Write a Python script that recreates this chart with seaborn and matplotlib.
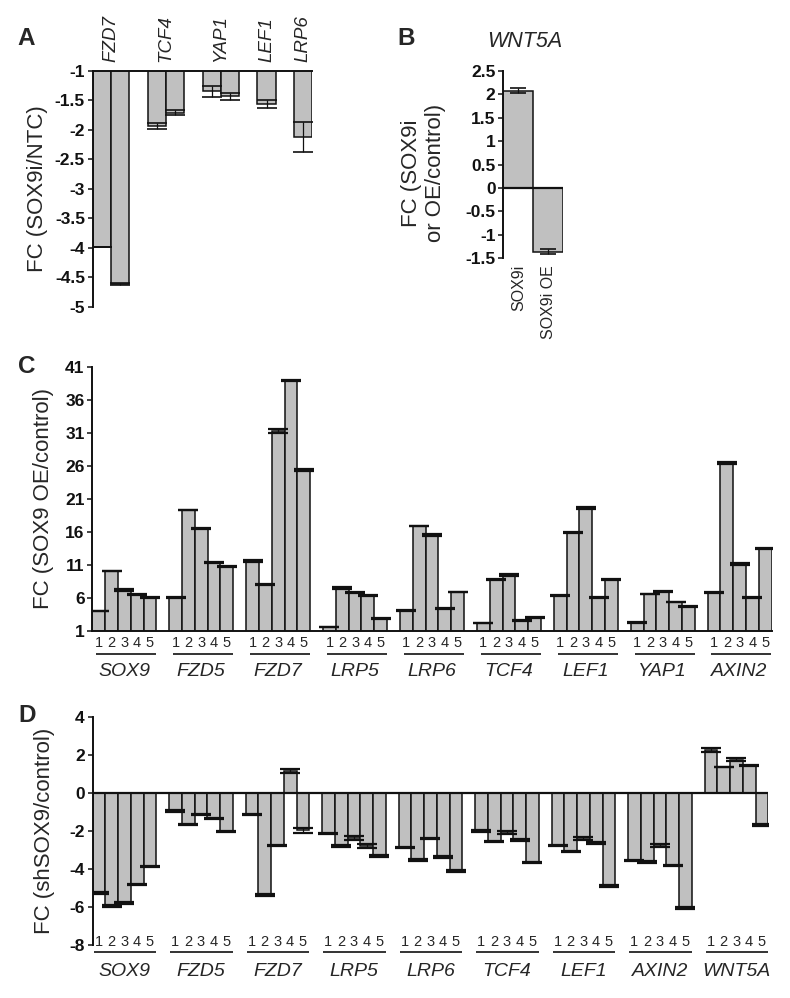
import matplotlib
matplotlib.use("Agg")
import matplotlib.pyplot as plt
import matplotlib.transforms as mtransforms
import pandas as pd
import seaborn as sns

# ------------------------------------------------------------------ data
A_genes = ["FZD7", "TCF4", "YAP1", "LEF1", "LRP6"]
A_values = [[-3.98, -4.62], [-1.93, -1.71], [-1.35, -1.43], [-1.56], [-2.12]]
A_errors = [[0.0, 0.015], [0.05, 0.04], [0.09, 0.06], [0.07], [0.25]]
A_yticks = [-1, -1.5, -2, -2.5, -3, -3.5, -4, -4.5, -5]
A_ylabel = "FC (SOX9i/NTC)"

B_title = "WNT5A"
B_categories = ["SOX9i", "SOX9i OE"]
B_values = [2.08, -1.36]
B_errors = [0.05, 0.05]
B_yticks = [2.5, 2, 1.5, 1, 0.5, 0, -0.5, -1, -1.5]
B_ylabel = "FC (SOX9i\nor OE/control)"

replicates = ["1", "2", "3", "4", "5"]

C_genes = ["SOX9", "FZD5", "FZD7", "LRP5", "LRP6", "TCF4", "LEF1", "YAP1", "AXIN2"]
C_values = [
    [4.0, 10.1, 7.2, 6.5, 6.1],
    [6.1, 19.3, 16.5, 11.4, 10.8],
    [11.6, 8.0, 31.3, 38.9, 25.4],
    [1.6, 7.5, 6.8, 6.4, 2.9],
    [4.1, 16.9, 15.6, 4.4, 6.9],
    [2.2, 8.8, 9.5, 2.6, 3.0],
    [6.4, 15.9, 19.6, 6.1, 8.8],
    [2.3, 6.6, 7.0, 5.4, 4.7],
    [6.8, 26.4, 11.1, 6.1, 13.5],
]
C_errors = [
    [0.03, 0.05, 0.12, 0.12, 0.05],
    [0.05, 0.05, 0.12, 0.1, 0.05],
    [0.12, 0.05, 0.3, 0.05, 0.12],
    [0.03, 0.12, 0.05, 0.05, 0.03],
    [0.03, 0.05, 0.15, 0.05, 0.05],
    [0.03, 0.05, 0.12, 0.05, 0.05],
    [0.05, 0.1, 0.12, 0.1, 0.12],
    [0.03, 0.05, 0.1, 0.05, 0.05],
    [0.05, 0.12, 0.15, 0.05, 0.12],
]
C_yticks = [1, 6, 11, 16, 21, 26, 31, 36, 41]
C_ylabel = "FC (SOX9 OE/control)"

D_genes = ["SOX9", "FZD5", "FZD7", "LRP5", "LRP6", "TCF4", "LEF1", "AXIN2", "WNT5A"]
D_values = [
    [-5.28, -5.94, -5.77, -4.81, -3.88],
    [-0.96, -1.66, -1.14, -1.36, -2.03],
    [-1.14, -5.37, -2.76, 1.14, -1.98],
    [-2.15, -2.81, -2.36, -2.80, -3.32],
    [-2.88, -3.53, -2.40, -3.37, -4.11],
    [-2.01, -2.57, -2.08, -2.48, -3.65],
    [-2.78, -3.08, -2.40, -2.64, -4.91],
    [-3.57, -3.65, -2.76, -3.83, -6.05],
    [2.24, 1.35, 1.75, 1.42, -1.70],
]
D_errors = [
    [0.04, 0.05, 0.05, 0.03, 0.04],
    [0.04, 0.04, 0.03, 0.04, 0.03],
    [0.03, 0.04, 0.04, 0.12, 0.12],
    [0.03, 0.04, 0.10, 0.10, 0.04],
    [0.04, 0.04, 0.03, 0.04, 0.05],
    [0.03, 0.04, 0.08, 0.03, 0.03],
    [0.04, 0.03, 0.08, 0.03, 0.05],
    [0.04, 0.04, 0.07, 0.03, 0.05],
    [0.12, 0.02, 0.10, 0.02, 0.04],
]
D_yticks = [4, 2, 0, -2, -4, -6, -8]
D_ylabel = "FC (shSOX9/control)"

# ------------------------------------------------------------------ style
sns.set_style("white")
plt.rcParams["font.family"] = ["Liberation Sans", "DejaVu Sans"]
plt.rcParams["axes.unicode_minus"] = False

BAR = "#c0c0c0"
EDGE = "#111111"
W, H = 790, 998
PX = 0.72  # points per pixel at dpi 100

fig = plt.figure(figsize=(W / 100, H / 100), dpi=100)


def add_ax(l, t, r, b):
    return fig.add_axes([l / W, 1 - b / H, (r - l) / W, (b - t) / H])


def build(genes, values, errors):
    rows, order = [], []
    for g, (gene, vals, errs) in enumerate(zip(genes, values, errors)):
        if g > 0:
            order.append(f"gap{g}")
        for i, (v, e) in enumerate(zip(vals, errs)):
            key = f"{gene}_{i + 1}"
            order.append(key)
            rows.append(dict(slot=key, gene=gene, rep=replicates[i], value=v, err=e))
    df = pd.DataFrame(rows)
    df["pos"] = [order.index(s) for s in df["slot"]]
    return df, order


def draw_bars(ax, df, order, capsize, capthick=1.2):
    sns.barplot(data=df, x="slot", y="value", order=order, color=BAR,
                edgecolor=EDGE, linewidth=1.1, width=1, saturation=1,
                errorbar=None, ax=ax)
    ax.errorbar(df["pos"], df["value"], yerr=df["err"], fmt="none",
                ecolor=EDGE, elinewidth=0.9, capsize=capsize,
                capthick=capthick, zorder=3)
    ax.set_xticks([])
    ax.set_xlabel("")
    ax.set_xlim(-0.5, len(order) - 0.5)


def style_y(ax, ticks, label, xfrac, yfrac=0.5, size=16):
    ax.set_ylim(min(ticks), max(ticks))
    ax.set_yticks(ticks, labels=[f"{t:g}" for t in ticks], fontweight="bold",
                  fontsize=12.5)
    ax.tick_params(axis="y", direction="out", length=3.6, width=1.1, pad=2,
                   left=True, colors=EDGE)
    ax.set_ylabel(label, fontsize=size, va="center", ha="center",
                  linespacing=1.15)
    ax.yaxis.set_label_coords(xfrac, yfrac)
    for s in ax.spines.values():
        s.set_linewidth(1.4)
        s.set_color(EDGE)


def offset(ax, dy_pt):
    return ax.get_xaxis_transform() + mtransforms.ScaledTranslation(
        0, dy_pt / 72, fig.dpi_scale_trans)


def group_labels(ax, df, digit_dy, line_dy, gene_dy, line_pad):
    for gene, sub in df.groupby("gene", sort=False):
        for _, r in sub.iterrows():
            ax.text(r["pos"], 0, r["rep"], transform=offset(ax, -digit_dy),
                    ha="center", va="baseline", fontsize=10.5)
        x0, x1 = sub["pos"].min(), sub["pos"].max()
        ax.plot([x0 - line_pad[0], x1 + line_pad[1]], [0, 0],
                transform=offset(ax, -line_dy), color=EDGE, lw=1.2,
                clip_on=False, solid_capstyle="butt")
        ax.text((x0 + x1) / 2, 0, gene, transform=offset(ax, -gene_dy),
                ha="center", va="baseline", fontsize=14, style="italic")


# ------------------------------------------------------------------ panel A
axA = add_ax(92.7, 70.7, 312.3, 306.7)
dfA, orderA = build(A_genes, A_values, A_errors)
draw_bars(axA, dfA, orderA, capsize=7.5)
style_y(axA, A_yticks, A_ylabel, xfrac=(38 - 92.7) / 219.6)
axA.spines["right"].set_visible(False)
axA.spines["bottom"].set_visible(False)
for gene, sub in dfA.groupby("gene", sort=False):
    axA.text(sub["pos"].mean(), 1, gene, transform=offset(axA, 8.7 * PX),
             rotation=90, ha="center", va="bottom", fontsize=13.5,
             style="italic")

# ------------------------------------------------------------------ panel B
axB = add_ax(503.3, 71, 563.3, 258.3)
dfB = pd.DataFrame(dict(cat=B_categories, value=B_values, err=B_errors))
sns.barplot(data=dfB, x="cat", y="value", order=B_categories, color=BAR,
            edgecolor=EDGE, linewidth=1.1, width=1, saturation=1,
            errorbar=None, ax=axB)
posB = [B_categories.index(c) for c in dfB["cat"]]
axB.errorbar(posB, dfB["value"], yerr=dfB["err"], fmt="none", ecolor=EDGE,
             elinewidth=0.9, capsize=6, capthick=1.2, zorder=3)
axB.set_xticks([])
axB.set_xlabel("")
axB.set_xlim(-0.5, len(B_categories) - 0.5)
style_y(axB, B_yticks, B_ylabel, xfrac=(423.7 - 503.3) / 60,
        yfrac=(258.3 - 173) / 187.3, size=16)
for sp in ["right", "top", "bottom"]:
    axB.spines[sp].set_visible(False)
axB.axhline(0, color=EDGE, lw=1.6, zorder=4)
for p, c in zip(posB, dfB["cat"]):
    axB.text(p, 0, c, transform=offset(axB, -6.7 * PX), rotation=90,
             ha="center", va="top", fontsize=11.5)
axB.text((525 - 503.3) / 60, 1 + (71 - 47) / 187.3, B_title,
         transform=axB.transAxes, ha="center", va="baseline", fontsize=15.5,
         style="italic")

# ------------------------------------------------------------------ panel C
axC = add_ax(92.3, 366.7, 771.7, 631)
dfC, orderC = build(C_genes, C_values, C_errors)
draw_bars(axC, dfC, orderC, capsize=7.0, capthick=1.6)
style_y(axC, C_yticks, C_ylabel, xfrac=(44 - 92.3) / 679.4)
axC.spines["right"].set_visible(False)
axC.spines["top"].set_visible(False)
group_labels(axC, dfC, digit_dy=16 * PX, line_dy=23 * PX, gene_dy=45 * PX,
             line_pad=(0.2, 0.48))

# ------------------------------------------------------------------ panel D
axD = add_ax(92.5, 716.7, 768.3, 945)
dfD, orderD = build(D_genes, D_values, D_errors)
draw_bars(axD, dfD, orderD, capsize=7.0, capthick=1.6)
style_y(axD, D_yticks, D_ylabel, xfrac=(45 - 92.5) / 675.8)
for sp in ["right", "top", "bottom"]:
    axD.spines[sp].set_visible(False)
axD.axhline(0, color=EDGE, lw=1.6, zorder=4)
group_labels(axD, dfD, digit_dy=1 * PX, line_dy=7.3 * PX, gene_dy=31 * PX,
             line_pad=(0.4, 0.5))

# ------------------------------------------------------------------ letters
for letter, (x, y) in {"A": (17, 45), "B": (397, 45), "C": (18, 373),
                       "D": (18, 722)}.items():
    fig.text(x / W, 1 - y / H, letter, fontsize=17.5, fontweight="bold",
             ha="left", va="baseline")

fig.savefig("out.png", dpi=100, facecolor="white")
